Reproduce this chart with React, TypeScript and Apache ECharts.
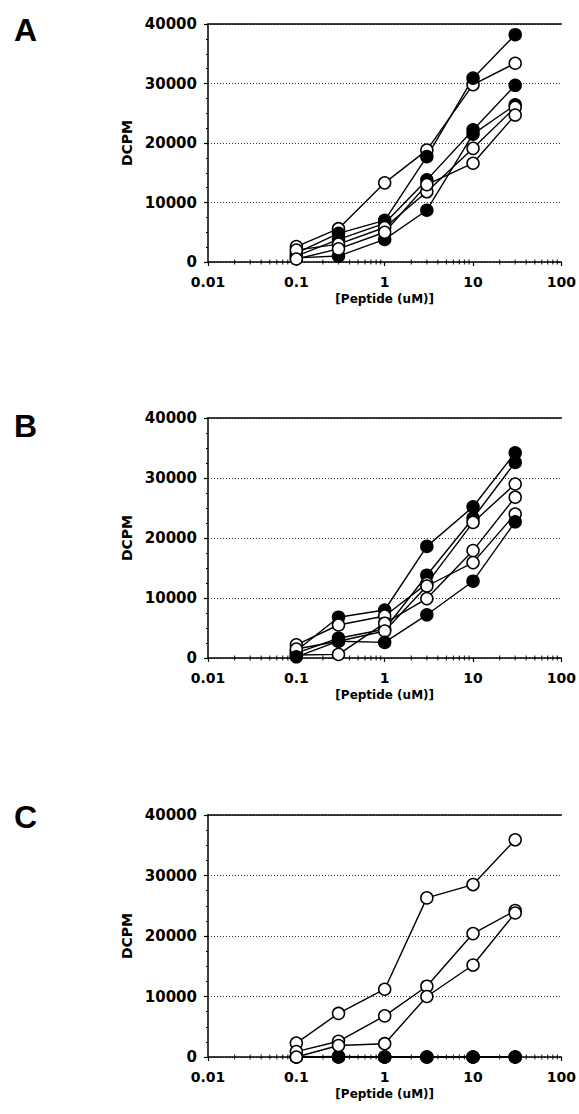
import React, { useEffect, useRef } from "react";
import * as echarts from "echarts";

// Peptide concentrations (uM)
const conc = [0.1, 0.3, 1, 3, 10, 30];

// Panel A
const aOpen1 = [2600, 5600, 13300, 18800, 29800, 33400];
const aFill1 = [1500, 4800, 7000, 17700, 30900, 38200];
const aFill2 = [1000, 3800, 6500, 13800, 22200, 29700];
const aFill3 = [700, 1000, 3800, 8700, 21500, 26400];
const aOpen2 = [2000, 3000, 5800, 11800, 19100, 26000];
const aOpen3 = [500, 2200, 5000, 13000, 16600, 24700];

// Panel B
const bFill1 = [1200, 6800, 8000, 18600, 25200, 34200];
const bFill2 = [800, 3300, 4800, 13800, 23300, 32600];
const bOpen1 = [2200, 5500, 7000, 12400, 22600, 29000];
const bOpen2 = [500, 600, 5800, 9900, 17900, 26800];
const bOpen3 = [1500, 2800, 4500, 12000, 15900, 24000];
const bFill3 = [200, 2800, 2600, 7200, 12800, 22700];

// Panel C
const cOpen1 = [2300, 7200, 11200, 26300, 28500, 35900];
const cOpen2 = [900, 2600, 6800, 11700, 20400, 24200];
const cOpen3 = [0, 1900, 2200, 10000, 15200, 23800];
const cFill1 = [0, 0, 0, 0, 0, 0];
const cFill2 = [100, 0, 0, 0, 0, 0];
const cFill3 = [0, 100, 0, 0, 0, 0];

// Minor log ticks on the x axis
const minorTicks = [
  0.02, 0.03, 0.04, 0.05, 0.06, 0.07, 0.08, 0.09,
  0.2, 0.3, 0.4, 0.5, 0.6, 0.7, 0.8, 0.9,
  2, 3, 4, 5, 6, 7, 8, 9,
  20, 30, 40, 50, 60, 70, 80, 90,
];

const panelLabels = ["A", "B", "C"];
const yTicks = { min: 0, max: 40000, interval: 10000 };
const xName = "[Peptide (uM)]";
const yName = "DCPM";

export default function App() {
  const ref = useRef<HTMLDivElement>(null);

  useEffect(() => {
    document.body.style.margin = "0";
    const chart = echarts.init(ref.current!, null, { renderer: "svg" });

    const grids = [
      { left: 208, top: 24, width: 358, height: 238 },
      { left: 208, top: 418, width: 358, height: 240 },
      { left: 208, top: 815, width: 358, height: 242 },
    ];
    const labelY = [28, 424, 815];

    const panels = [
      [
        { d: aOpen1, filled: false },
        { d: aFill1, filled: true },
        { d: aFill2, filled: true },
        { d: aFill3, filled: true },
        { d: aOpen2, filled: false },
        { d: aOpen3, filled: false },
      ],
      [
        { d: bFill1, filled: true },
        { d: bFill2, filled: true },
        { d: bOpen1, filled: false },
        { d: bOpen2, filled: false },
        { d: bOpen3, filled: false },
        { d: bFill3, filled: true },
      ],
      [
        { d: cFill1, filled: true },
        { d: cFill2, filled: true },
        { d: cFill3, filled: true },
        { d: cOpen1, filled: false },
        { d: cOpen2, filled: false },
        { d: cOpen3, filled: false },
      ],
    ];

    const font = {
      fontFamily: "DejaVu Sans",
      fontWeight: "bold" as const,
      color: "#000",
    };

    const xAxes: any[] = [];
    const yAxes: any[] = [];
    const series: any[] = [];

    grids.forEach((g, i) => {
      xAxes.push({
        type: "log",
        logBase: 10,
        gridIndex: i,
        min: 0.01,
        max: 100,
        position: "bottom",
        name: xName,
        nameLocation: "middle",
        nameGap: 31,
        nameTextStyle: { ...font, fontSize: 12 },
        axisLine: { show: true, onZero: true, lineStyle: { color: "#000", width: 1.5 } },
        axisTick: { show: true, length: 4, lineStyle: { color: "#000", width: 1.2 } },
        axisLabel: {
          ...font,
          fontSize: 14,
          margin: 13,
          formatter: (v: number) => String(+Number(v).toPrecision(3)),
        },
        splitLine: { show: false },
      });
      xAxes.push({
        type: "log",
        logBase: 10,
        gridIndex: i,
        min: 0.01,
        max: 100,
        position: "top",
        axisLine: { show: true, onZero: false, lineStyle: { color: "#000", width: 1.5 } },
        axisTick: { show: false },
        axisLabel: { show: false },
        splitLine: { show: false },
      });
      yAxes.push({
        type: "value",
        gridIndex: i,
        min: yTicks.min,
        max: yTicks.max,
        interval: yTicks.interval,
        name: yName,
        nameLocation: "middle",
        nameGap: 67,
        nameTextStyle: { ...font, fontSize: 14 },
        axisLine: { show: true, lineStyle: { color: "#000", width: 1.5 } },
        axisTick: { show: true, length: 4, lineStyle: { color: "#000", width: 1.2 } },
        minorTick: { show: true, splitNumber: 4, length: 2, lineStyle: { color: "#000" } },
        axisLabel: {
          ...font,
          fontSize: 15,
          margin: 11,
          formatter: (v: number) => String(v),
        },
        splitLine: { show: true, lineStyle: { color: "#333", type: [1, 2], width: 1 } },
      });

      series.push({
        type: "scatter",
        xAxisIndex: i * 2,
        yAxisIndex: i,
        symbol: "rect",
        symbolSize: [1.2, 5],
        itemStyle: { color: "#000" },
        data: minorTicks.map((x) => [x, 0]),
        silent: true,
        z: 1,
      });

      panels[i].forEach((s) => {
        series.push({
          type: "line",
          xAxisIndex: i * 2,
          yAxisIndex: i,
          data: conc.map((x, k) => [x, s.d[k]]),
          symbol: "circle",
          symbolSize: 12,
          showAllSymbol: true,
          lineStyle: { color: "#000", width: 1.4 },
          itemStyle: s.filled
            ? { color: "#000", borderColor: "#000", borderWidth: 1.5 }
            : { color: "#fff", borderColor: "#000", borderWidth: 1.5 },
          z: 3,
        });
      });
    });

    chart.setOption({
      animation: false,
      backgroundColor: "#fff",
      grid: grids,
      xAxis: xAxes,
      yAxis: yAxes,
      series,
      graphic: panelLabels.map((t, i) => ({
        type: "text",
        left: 14,
        top: labelY[i] - 14,
        style: {
          text: t,
          fontFamily: "Liberation Sans",
          fontWeight: "bold",
          fontSize: 32,
          fill: "#000",
        },
      })),
    });

    return () => chart.dispose();
  }, []);

  return <div ref={ref} style={{ width: 579, height: 1114 }} />;
}
